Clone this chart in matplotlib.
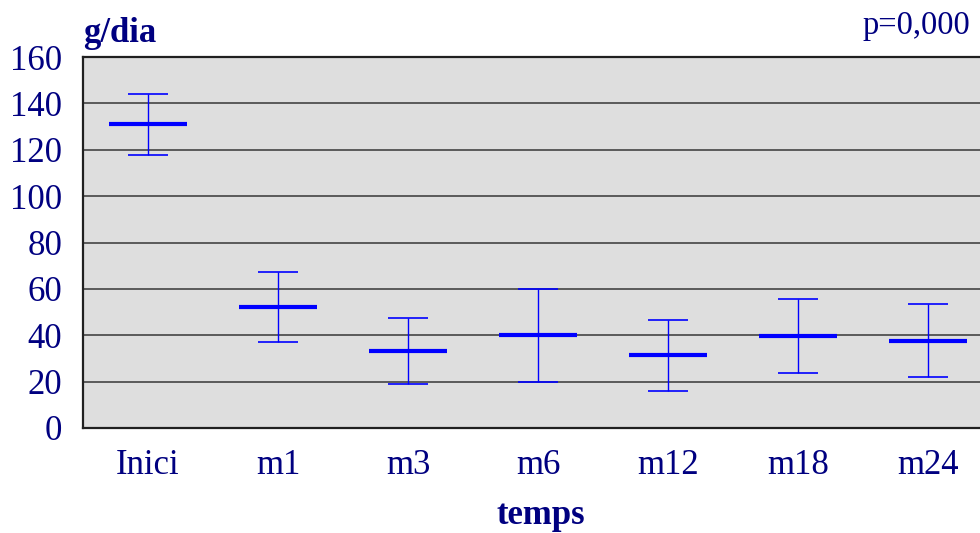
import matplotlib.pyplot as plt
import numpy as np

plt.rcParams['font.family'] = ['Liberation Serif', 'DejaVu Serif']

categories = ['Inici', 'm1', 'm3', 'm6', 'm12', 'm18', 'm24']
means = [130.9, 52.0, 33.2, 40.1, 31.3, 39.7, 37.5]
upper = [144.0, 67.3, 47.4, 59.9, 46.6, 55.6, 53.5]
lower = [117.9, 37.1, 19.0, 19.8, 16.0, 23.7, 22.2]
yticks = [0, 20, 40, 60, 80, 100, 120, 140, 160]

navy = '#000080'
blue = '#0000FF'

fig = plt.figure(figsize=(9.8, 5.33), dpi=100)
# axes runs past the right edge of the figure, like the original crop
ax = fig.add_axes([83 / 980, (533 - 428) / 533, 910 / 980, 371 / 533])
ax.set_facecolor('#DEDEDE')

x = np.arange(len(categories))
means = np.array(means)
upper = np.array(upper)
lower = np.array(lower)

ax.vlines(x, lower, upper, color=blue, lw=1.0, zorder=3)
ax.hlines(upper, x - 0.155, x + 0.155, color=blue, lw=1.2, zorder=3)
ax.hlines(lower, x - 0.155, x + 0.155, color=blue, lw=1.2, zorder=3)
ax.hlines(means, x - 0.3, x + 0.3, color=blue, lw=3.0, zorder=4)

ax.set_xlim(-0.5, len(categories) - 0.5)
ax.set_ylim(0, 160)
ax.set_yticks(yticks)
ax.yaxis.grid(True, color='#505050', lw=1.3)
ax.set_axisbelow(True)
ax.set_xticks(x)
ax.set_xticklabels(categories)
ax.tick_params(axis='both', length=0, labelsize=25, labelcolor=navy)
ax.tick_params(axis='y', pad=15)
ax.tick_params(axis='x', pad=15)

for side in ['top', 'left', 'bottom']:
    ax.spines[side].set_color('#202020')
    ax.spines[side].set_linewidth(1.6)
ax.spines['right'].set_visible(False)

fig.text(83 / 980, 1 - 33 / 533, 'g/dia', fontsize=25, fontweight='bold',
         color=navy, va='center', ha='left')
fig.text(541 / 980, 1 - 516 / 533, 'temps', fontsize=25, fontweight='bold',
         color=navy, va='center', ha='center')
fig.text(970 / 980, 1 - 26 / 533, 'p=0,000', fontsize=23.5,
         color=navy, va='center', ha='right')

fig.savefig('out.png', dpi=100)
